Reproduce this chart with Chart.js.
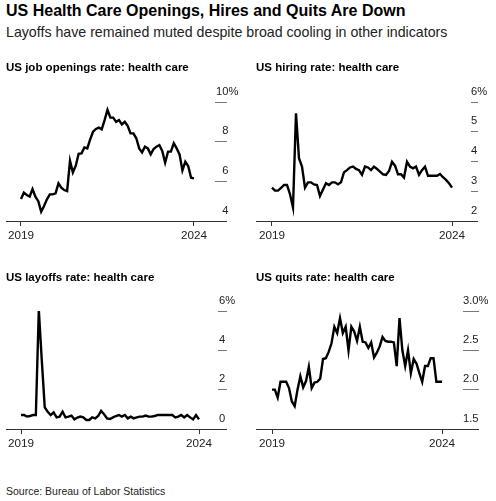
<!DOCTYPE html>
<html>
<head>
<meta charset="utf-8">
<script src="https://cdn.jsdelivr.net/npm/chart.js@4"></script>
<style>
  body { margin: 0; background: #fff; font-family: "Liberation Sans", Arial, sans-serif; }
  #wrap { position: relative; width: 496px; height: 501px; overflow: hidden; }
  .head { position: absolute; left: 6px; white-space: nowrap; }
  #title { top: 1px; font-size: 16px; line-height: 20px; font-weight: bold; color: #000; }
  #subtitle { top: 23px; font-size: 14.2px; line-height: 18px; color: #222; }
  #source { top: 484px; font-size: 10.5px; line-height: 14px; color: #222; }
  canvas { position: absolute; }
</style>
</head>
<body>
<div id="wrap">
  <div id="title" class="head">US Health Care Openings, Hires and Quits Are Down</div>
  <div id="subtitle" class="head">Layoffs have remained muted despite broad cooling in other indicators</div>
  <canvas id="openings-chart" width="248" height="195" style="left:0;top:58px"></canvas>
  <canvas id="hires-chart" width="246" height="195" style="left:250px;top:58px"></canvas>
  <canvas id="layoffs-chart" width="248" height="195" style="left:0;top:268px"></canvas>
  <canvas id="quits-chart" width="246" height="195" style="left:250px;top:268px"></canvas>
  <div id="source" class="head">Source: Bureau of Labor Statistics</div>
</div>
<script>
// monthly rates, %, first point = start of the 2019 tick, last = 2024 tick
const openings = [5.11, 5.43, 5.31, 5.23, 5.61, 5.23, 5.0, 4.47, 4.76, 5.09,
    5.34, 5.34, 5.39, 5.9, 5.68, 5.56, 5.51, 7.03, 6.45, 6.79,
    7.39, 7.41, 7.71, 7.66, 8.12, 8.5, 8.64, 8.71, 8.62, 9.09,
    9.6, 9.21, 9.21, 9.0, 9.09, 8.87, 9.0, 8.8, 8.42, 8.42,
    8.17, 7.66, 7.46, 7.75, 7.66, 7.36, 7.63, 7.75, 7.83, 7.53,
    6.94, 7.5, 7.5, 7.92, 7.66, 7.36, 6.55, 6.99, 6.77, 6.18, 6.15];
const hires = [3.12, 3.02, 3.02, 3.11, 3.21, 3.21, 2.9, 2.45, 5.62, 4.11,
    3.83, 3.12, 3.3, 3.3, 3.23, 3.21, 2.84, 3.06, 3.27, 3.21,
    3.3, 3.3, 3.23, 3.3, 3.64, 3.71, 3.8, 3.83, 3.75, 3.71,
    3.55, 3.83, 3.8, 3.71, 3.83, 3.75, 3.66, 3.57, 3.55, 3.68,
    3.99, 3.86, 3.57, 3.57, 3.46, 3.99, 3.83, 3.77, 3.83, 3.55,
    3.71, 3.83, 3.52, 3.52, 3.52, 3.52, 3.58, 3.47, 3.38, 3.27, 3.12];
const layoffs = [0.71, 0.71, 0.63, 0.66, 0.71, 0.71, 6.05, 3.5, 1.1, 0.88,
    0.71, 0.85, 0.59, 0.63, 0.88, 0.59, 0.63, 0.68, 0.49, 0.58,
    0.63, 0.59, 0.46, 0.46, 0.59, 0.54, 0.66, 0.92, 0.75, 0.54,
    0.51, 0.59, 0.66, 0.71, 0.63, 0.71, 0.54, 0.63, 0.54, 0.59,
    0.63, 0.63, 0.68, 0.63, 0.63, 0.66, 0.71, 0.71, 0.71, 0.71,
    0.71, 0.71, 0.59, 0.63, 0.71, 0.59, 0.71, 0.59, 0.49, 0.71, 0.49];
const quits = [2.0, 2.0, 1.9, 2.1, 2.1, 2.1, 2.02, 1.85, 1.79, 2.0,
    2.17, 2.03, 2.11, 2.29, 2.02, 2.09, 2.1, 2.14, 2.39, 2.4,
    2.48, 2.59, 2.8, 2.72, 2.91, 2.72, 2.8, 2.5, 2.8, 2.74,
    2.62, 2.8, 2.61, 2.6, 2.53, 2.6, 2.41, 2.47, 2.55, 2.67,
    2.62, 2.61, 2.61, 2.6, 2.3, 2.91, 2.5, 2.3, 2.5, 2.21,
    2.39, 2.33, 2.21, 2.1, 2.3, 2.3, 2.4, 2.4, 2.1, 2.1, 2.1];

const xTickPos = [0, 60];
const xTickLabels = ['2019', '2024'];

// figure space keeps single digits lined up under the two-digit label
const openingsTicks = [4, 6, 8, 10];
const openingsTickLabels = ['\u20074', '\u20076', '\u20078', '10%'];
const hiresTicks = [2, 3, 4, 5, 6];
const hiresTickLabels = ['2', '3', '4', '5', '6%'];
const layoffsTicks = [0, 2, 4, 6];
const layoffsTickLabels = ['0', '2', '4', '6%'];
const quitsTicks = [1.5, 2.0, 2.5, 3.0];
const quitsTickLabels = ['1.5', '2.0', '2.5', '3.0%'];

Chart.defaults.font.family = '"Liberation Sans", Arial, sans-serif';
Chart.defaults.color = '#222';

const makeChart = (id, cfg) => {
    const canvas = document.getElementById(id);
    const yMin = cfg.yTicks[0];
    const yMax = cfg.yTicks[cfg.yTicks.length - 1];
    return new Chart(canvas, {
        type: 'line',
        data: {
            datasets: [{
                data: cfg.values.map((v, i) => ({ x: i, y: v })),
                borderColor: '#000',
                borderWidth: 2.4,
                pointRadius: 0,
                tension: 0,
                fill: false
            }]
        },
        options: {
            responsive: false,
            animation: false,
            layout: { padding: { left: 6, right: 0, top: 0, bottom: cfg.bottomPad } },
            scales: {
                x: {
                    type: 'linear',
                    min: cfg.xMin,
                    max: cfg.xMax,
                    afterBuildTicks: axis => { axis.ticks = xTickPos.map(v => ({ value: v })); },
                    afterFit: axis => { axis.height = 30; },
                    grid: { drawOnChartArea: false, drawTicks: true, tickLength: 5, color: '#333', lineWidth: 1 },
                    border: { display: true, color: '#333', width: 1 },
                    ticks: {
                        autoSkip: false,
                        maxRotation: 0,
                        padding: 3,
                        color: '#222',
                        font: { size: 11.7 },
                        callback: (v, i) => xTickLabels[i]
                    }
                },
                y: {
                    position: 'right',
                    min: yMin,
                    max: yMax,
                    afterBuildTicks: axis => { axis.ticks = cfg.yTicks.map(v => ({ value: v })); },
                    afterFit: axis => { axis.width = cfg.axisWidth; },
                    grid: {
                        drawOnChartArea: false,
                        drawTicks: true,
                        tickLength: cfg.dash,
                        lineWidth: 1,
                        color: ctx => (ctx.tick && ctx.tick.value === yMin ? '#333' : '#777')
                    },
                    border: { display: false },
                    ticks: {
                        crossAlign: 'near',
                        padding: cfg.labelPad,
                        labelOffset: -10.5,
                        color: '#222',
                        font: { size: 11.2 },
                        callback: (v, i) => cfg.yLabels[i]
                    }
                }
            },
            plugins: {
                legend: { display: false },
                tooltip: { enabled: false },
                title: {
                    display: true,
                    text: cfg.title,
                    align: 'start',
                    color: '#000',
                    font: { size: 11.5, weight: 'bold' },
                    padding: { top: cfg.titleTop, bottom: cfg.titleBottom }
                }
            }
        }
    });
};

makeChart('openings-chart', {
    title: 'US job openings rate: health care',
    values: openings, yTicks: openingsTicks, yLabels: openingsTickLabels,
    xMin: -5.2, xMax: 67.3, axisWidth: 33, dash: 12, labelPad: -11,
    titleTop: 3.4, titleBottom: 26.8, bottomPad: 2
});
makeChart('hires-chart', {
    title: 'US hiring rate: health care',
    values: hires, yTicks: hiresTicks, yLabels: hiresTickLabels,
    xMin: -5.33, xMax: 66.33, axisWidth: 25, dash: 7, labelPad: -7,
    titleTop: 3.4, titleBottom: 26.8, bottomPad: 2
});
makeChart('layoffs-chart', {
    title: 'US layoffs rate: health care',
    values: layoffs, yTicks: layoffsTicks, yLabels: layoffsTickLabels,
    xMin: -5.06, xMax: 66.4, axisWidth: 30, dash: 9, labelPad: -8,
    titleTop: 3.4, titleBottom: 25.8, bottomPad: 4
});
makeChart('quits-chart', {
    title: 'US quits rate: health care',
    values: quits, yTicks: quitsTicks, yLabels: quitsTickLabels,
    xMin: -5.65, xMax: 67.4, axisWidth: 33, dash: 16, labelPad: -16,
    titleTop: 3.4, titleBottom: 25.8, bottomPad: 4
});
</script>
</body>
</html>
